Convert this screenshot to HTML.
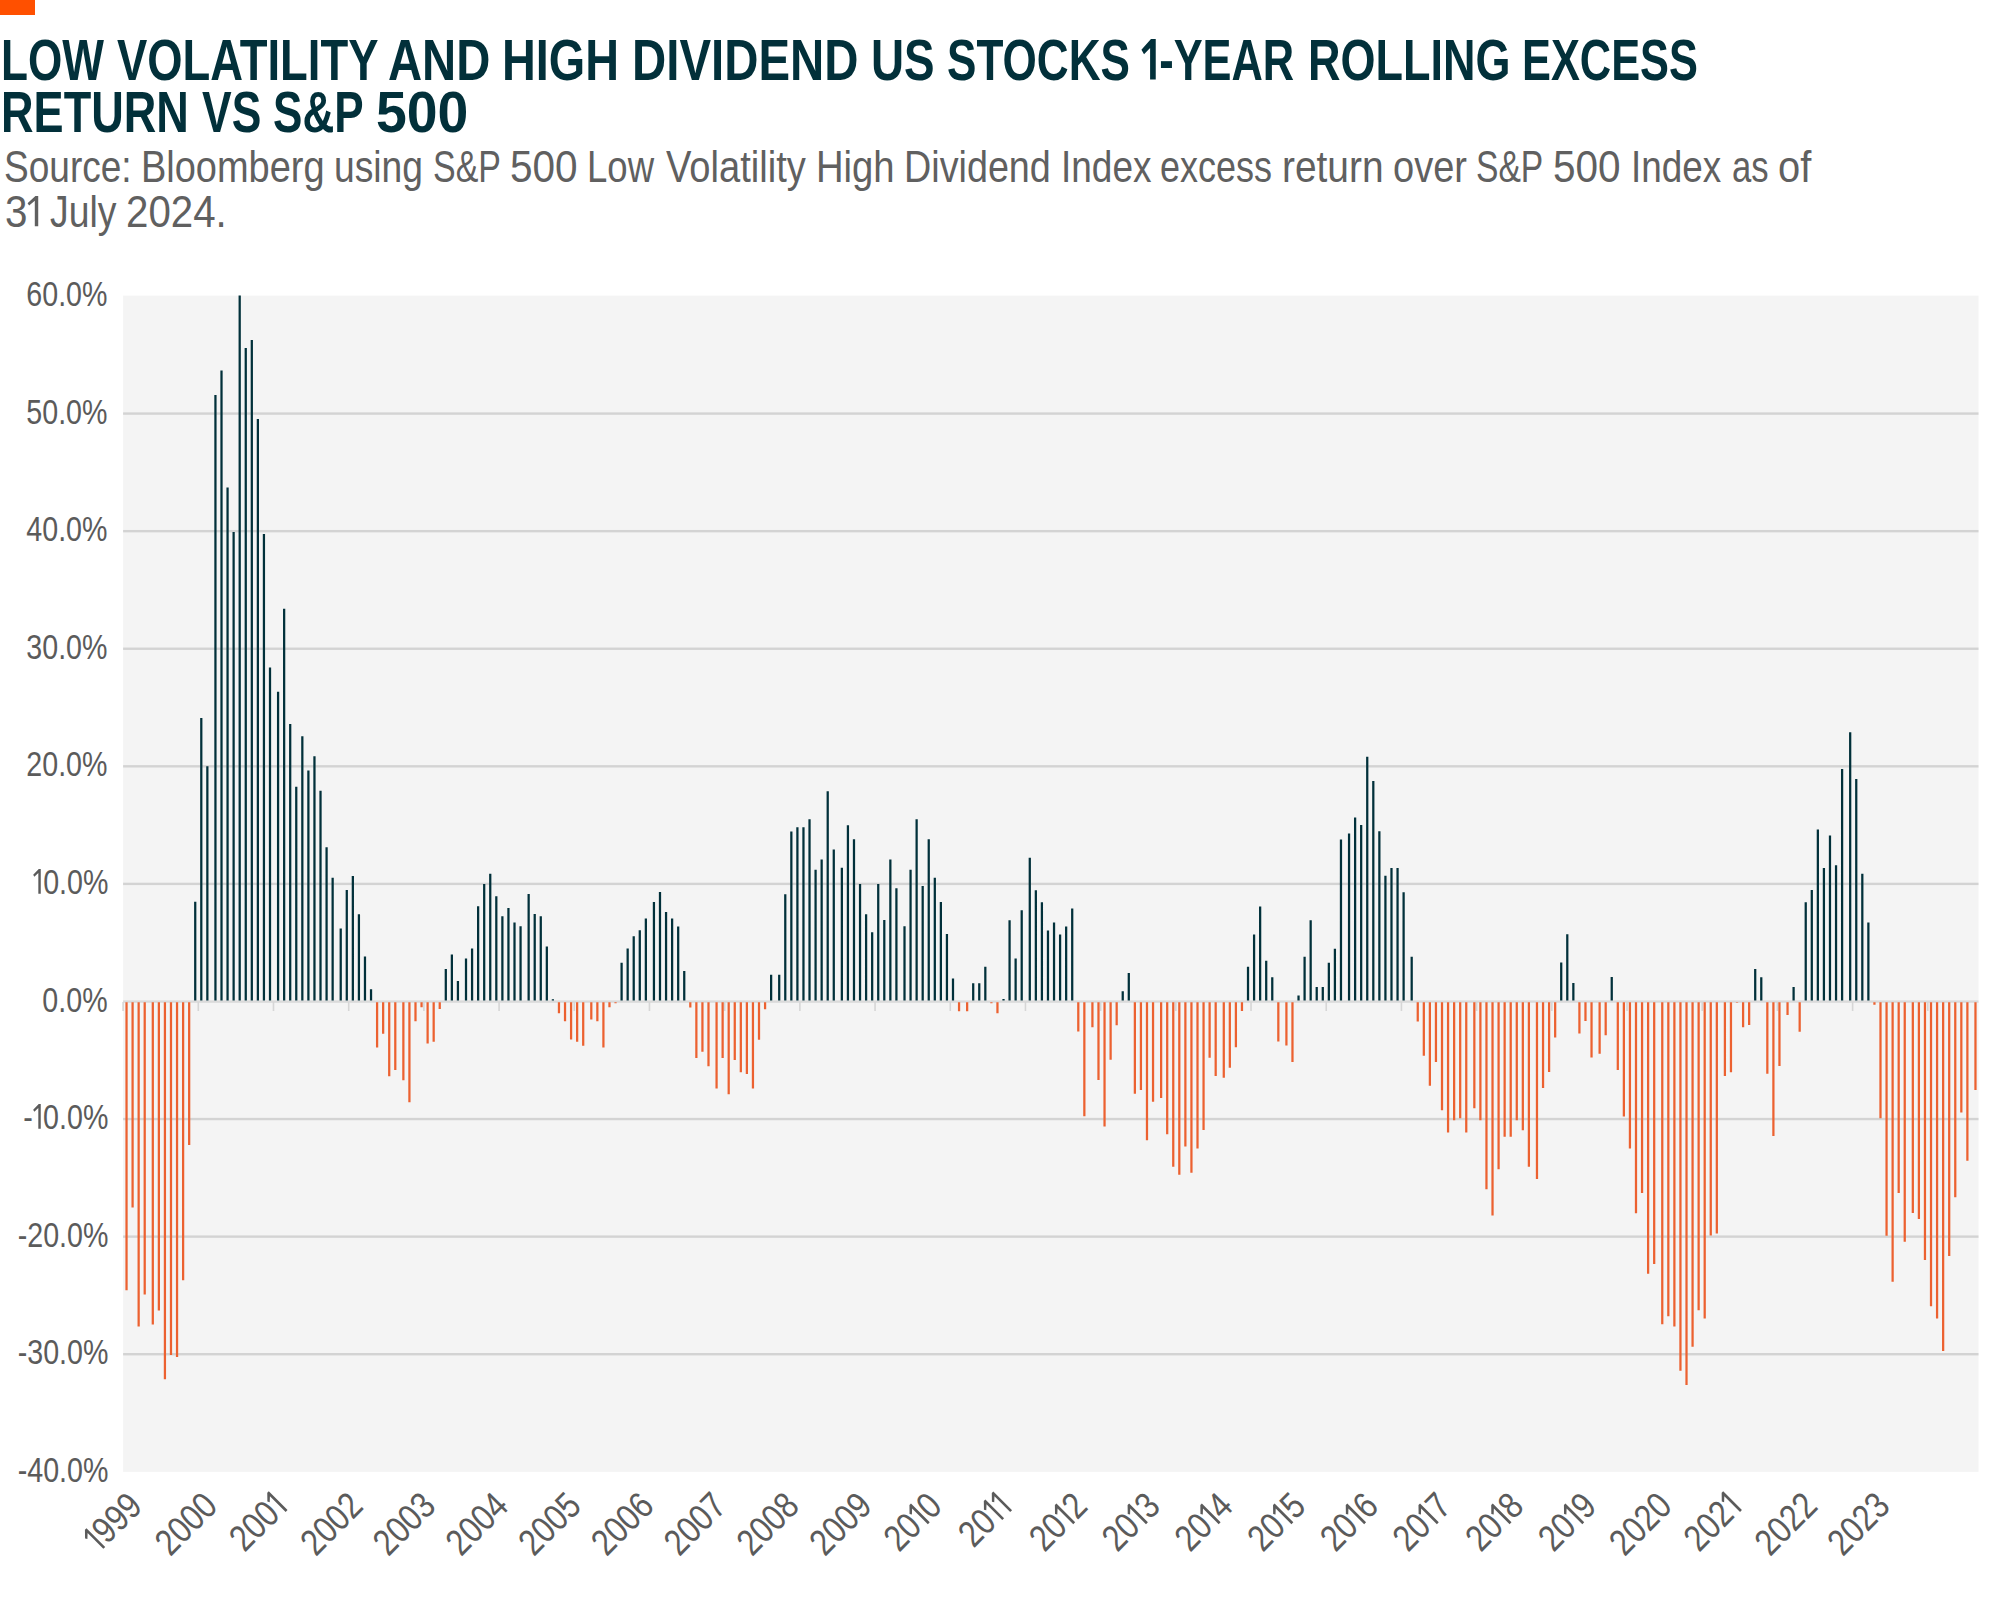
<!DOCTYPE html>
<html><head><meta charset="utf-8">
<style>
html,body{margin:0;padding:0;background:#fff;}
body{width:2000px;height:1606px;position:relative;overflow:hidden;font-family:"Liberation Sans",sans-serif;}
.bar{position:absolute;left:0;top:0;width:35px;height:15px;background:#ff5000;}
.t,.s{position:absolute;white-space:nowrap;transform-origin:0 0;}
.t{color:#02303a;font-weight:bold;}
.s{color:#606060;}
.one,.oneb{display:inline-block;width:0.36em;height:0.69em;font-weight:normal;}
.oneb{width:0.42em;height:0.7em;}
.one svg,.oneb svg{position:static;display:block;width:100%;height:100%;}
svg{position:absolute;left:0;top:0;}
.yl{position:absolute;right:1892px;white-space:nowrap;color:#5b5b5b;font-size:35.8px;line-height:40px;height:40px;margin-top:-20px;transform-origin:100% 50%;transform:scaleX(0.8);}
</style></head><body>
<div class="bar"></div>
<div class="t" id="t1w0" style="left:0.63px;top:31.56px;font-size:57.70px;line-height:57.70px;transform:scaleX(0.7661)">LOW</div>
<div class="t" id="t1w1" style="left:117.01px;top:31.56px;font-size:57.70px;line-height:57.70px;transform:scaleX(0.7870)">VOLATILITY</div>
<div class="t" id="t1w2" style="left:387.97px;top:31.56px;font-size:57.70px;line-height:57.70px;transform:scaleX(0.8190)">AND</div>
<div class="t" id="t1w3" style="left:501.97px;top:31.56px;font-size:57.70px;line-height:57.70px;transform:scaleX(0.8118)">HIGH</div>
<div class="t" id="t1w4" style="left:631.92px;top:31.56px;font-size:57.70px;line-height:57.70px;transform:scaleX(0.8215)">DIVIDEND</div>
<div class="t" id="t1w5" style="left:871.02px;top:31.56px;font-size:57.70px;line-height:57.70px;transform:scaleX(0.7935)">US</div>
<div class="t" id="t1w6" style="left:947.05px;top:31.56px;font-size:57.70px;line-height:57.70px;transform:scaleX(0.7645)">STOCKS</div>
<div class="t" id="t1w7" style="left:1140.93px;top:31.56px;font-size:57.70px;line-height:57.70px;transform:scaleX(0.7516)"><b class="oneb"><svg viewBox="0 0 42 71.6" preserveAspectRatio="none"><path fill="currentColor" d="M34 0V71.6H21V16L7 27L1 19L23 0Z"/></svg></b>-YEAR</div>
<div class="t" id="t1w8" style="left:1308.08px;top:31.56px;font-size:57.70px;line-height:57.70px;transform:scaleX(0.7798)">ROLLING</div>
<div class="t" id="t1w9" style="left:1522.17px;top:31.56px;font-size:57.70px;line-height:57.70px;transform:scaleX(0.7515)">EXCESS</div>
<div class="t" id="t2w0" style="left:1.07px;top:83.56px;font-size:57.70px;line-height:57.70px;transform:scaleX(0.7815)">RETURN</div>
<div class="t" id="t2w1" style="left:202.00px;top:83.56px;font-size:57.70px;line-height:57.70px;transform:scaleX(0.7708)">VS</div>
<div class="t" id="t2w2" style="left:273.07px;top:83.56px;font-size:57.70px;line-height:57.70px;transform:scaleX(0.7636)">S&amp;P</div>
<div class="t" id="t2w3" style="left:375.79px;top:83.56px;font-size:57.70px;line-height:57.70px;transform:scaleX(0.9601)">500</div>
<div class="s" id="s1w0" style="left:3.90px;top:144.72px;font-size:43.80px;line-height:43.80px;transform:scaleX(0.8456)">Source:</div>
<div class="s" id="s1w1" style="left:140.72px;top:144.72px;font-size:43.80px;line-height:43.80px;transform:scaleX(0.8669)">Bloomberg</div>
<div class="s" id="s1w2" style="left:333.89px;top:144.72px;font-size:43.80px;line-height:43.80px;transform:scaleX(0.8500)">using</div>
<div class="s" id="s1w3" style="left:433.07px;top:144.72px;font-size:43.80px;line-height:43.80px;transform:scaleX(0.7748)">S&amp;P</div>
<div class="s" id="s1w4" style="left:509.71px;top:144.72px;font-size:43.80px;line-height:43.80px;transform:scaleX(0.9254)">500</div>
<div class="s" id="s1w5" style="left:586.89px;top:144.72px;font-size:43.80px;line-height:43.80px;transform:scaleX(0.8344)">Low</div>
<div class="s" id="s1w6" style="left:666.02px;top:144.72px;font-size:43.80px;line-height:43.80px;transform:scaleX(0.8700)">Volatility</div>
<div class="s" id="s1w7" style="left:815.74px;top:144.72px;font-size:43.80px;line-height:43.80px;transform:scaleX(0.8729)">High</div>
<div class="s" id="s1w8" style="left:903.80px;top:144.72px;font-size:43.80px;line-height:43.80px;transform:scaleX(0.8617)">Dividend</div>
<div class="s" id="s1w9" style="left:1060.81px;top:144.72px;font-size:43.80px;line-height:43.80px;transform:scaleX(0.8450)">Index</div>
<div class="s" id="s1w10" style="left:1159.98px;top:144.72px;font-size:43.80px;line-height:43.80px;transform:scaleX(0.8210)">excess</div>
<div class="s" id="s1w11" style="left:1281.72px;top:144.72px;font-size:43.80px;line-height:43.80px;transform:scaleX(0.8875)">return</div>
<div class="s" id="s1w12" style="left:1392.87px;top:144.72px;font-size:43.80px;line-height:43.80px;transform:scaleX(0.8685)">over</div>
<div class="s" id="s1w13" style="left:1476.08px;top:144.72px;font-size:43.80px;line-height:43.80px;transform:scaleX(0.7674)">S&amp;P</div>
<div class="s" id="s1w14" style="left:1552.63px;top:144.72px;font-size:43.80px;line-height:43.80px;transform:scaleX(0.9254)">500</div>
<div class="s" id="s1w15" style="left:1630.84px;top:144.72px;font-size:43.80px;line-height:43.80px;transform:scaleX(0.8420)">Index</div>
<div class="s" id="s1w16" style="left:1732.01px;top:144.72px;font-size:43.80px;line-height:43.80px;transform:scaleX(0.7915)">as</div>
<div class="s" id="s1w17" style="left:1777.84px;top:144.72px;font-size:43.80px;line-height:43.80px;transform:scaleX(0.9101)">of</div>
<div class="s" id="s2w0" style="left:4.71px;top:189.62px;font-size:43.80px;line-height:43.80px;transform:scaleX(0.9220)">3<b class="one"><svg viewBox="0 0 36 71.6" preserveAspectRatio="none"><path fill="currentColor" d="M27.5 0V71.6H19V11.5L5 22.5L1 17L20.5 0Z"/></svg></b></div>
<div class="s" id="s2w1" style="left:49.94px;top:189.62px;font-size:43.80px;line-height:43.80px;transform:scaleX(0.8525)">July</div>
<div class="s" id="s2w2" style="left:125.65px;top:189.62px;font-size:43.80px;line-height:43.80px;transform:scaleX(0.9187)">2024.</div>
<svg width="2000" height="1606" viewBox="0 0 2000 1606">
<rect x="123.1" y="295.6" width="1855.4" height="1176.3" fill="#f4f4f4"/>
<rect x="123.1" y="412.38" width="1855.4" height="2.4" fill="#d3d3d3"/>
<rect x="123.1" y="529.96" width="1855.4" height="2.4" fill="#d3d3d3"/>
<rect x="123.1" y="647.54" width="1855.4" height="2.4" fill="#d3d3d3"/>
<rect x="123.1" y="765.12" width="1855.4" height="2.4" fill="#d3d3d3"/>
<rect x="123.1" y="882.70" width="1855.4" height="2.4" fill="#d3d3d3"/>
<rect x="123.1" y="1117.86" width="1855.4" height="2.4" fill="#d3d3d3"/>
<rect x="123.1" y="1235.44" width="1855.4" height="2.4" fill="#d3d3d3"/>
<rect x="123.1" y="1353.02" width="1855.4" height="2.4" fill="#d3d3d3"/>
<rect x="123.1" y="1000.40" width="1855.4" height="2.4" fill="#dadada"/>
<path fill="#d6d6d6" d="M122.30 1002h1.6v9h-1.6zM197.50 1002h1.6v9h-1.6zM272.69 1002h1.6v9h-1.6zM347.89 1002h1.6v9h-1.6zM423.08 1002h1.6v9h-1.6zM498.28 1002h1.6v9h-1.6zM573.48 1002h1.6v9h-1.6zM648.67 1002h1.6v9h-1.6zM723.87 1002h1.6v9h-1.6zM799.06 1002h1.6v9h-1.6zM874.26 1002h1.6v9h-1.6zM949.46 1002h1.6v9h-1.6zM1024.65 1002h1.6v9h-1.6zM1099.85 1002h1.6v9h-1.6zM1175.04 1002h1.6v9h-1.6zM1250.24 1002h1.6v9h-1.6zM1325.44 1002h1.6v9h-1.6zM1400.63 1002h1.6v9h-1.6zM1475.83 1002h1.6v9h-1.6zM1551.02 1002h1.6v9h-1.6zM1626.22 1002h1.6v9h-1.6zM1701.42 1002h1.6v9h-1.6zM1776.61 1002h1.6v9h-1.6zM1851.81 1002h1.6v9h-1.6zM1927.00 1002h1.6v9h-1.6z"/>
<path fill="#01303a" d="M194.11 901.80h2.25V1000.40h-2.25zM200.17 718.10h2.25V1000.40h-2.25zM206.23 766.30h2.25V1000.40h-2.25zM214.32 395.10h2.25V1000.40h-2.25zM220.38 370.40h2.25V1000.40h-2.25zM226.44 487.50h2.25V1000.40h-2.25zM232.50 532.10h2.25V1000.40h-2.25zM238.57 295.40h2.25V1000.40h-2.25zM244.63 348.00h2.25V1000.40h-2.25zM250.69 340.00h2.25V1000.40h-2.25zM256.75 419.00h2.25V1000.40h-2.25zM262.81 534.10h2.25V1000.40h-2.25zM268.88 667.50h2.25V1000.40h-2.25zM276.96 691.80h2.25V1000.40h-2.25zM283.02 608.70h2.25V1000.40h-2.25zM289.08 724.10h2.25V1000.40h-2.25zM295.14 786.70h2.25V1000.40h-2.25zM301.21 736.30h2.25V1000.40h-2.25zM307.27 770.60h2.25V1000.40h-2.25zM313.33 756.30h2.25V1000.40h-2.25zM319.39 790.80h2.25V1000.40h-2.25zM325.46 847.20h2.25V1000.40h-2.25zM331.52 877.70h2.25V1000.40h-2.25zM339.60 928.40h2.25V1000.40h-2.25zM345.66 890.00h2.25V1000.40h-2.25zM351.72 876.00h2.25V1000.40h-2.25zM357.79 914.20h2.25V1000.40h-2.25zM363.85 956.60h2.25V1000.40h-2.25zM369.91 989.30h2.25V1000.40h-2.25zM444.68 968.90h2.25V1000.40h-2.25zM450.74 954.60h2.25V1000.40h-2.25zM456.80 981.00h2.25V1000.40h-2.25zM464.88 958.50h2.25V1000.40h-2.25zM470.95 948.60h2.25V1000.40h-2.25zM477.01 906.20h2.25V1000.40h-2.25zM483.07 884.00h2.25V1000.40h-2.25zM489.13 873.80h2.25V1000.40h-2.25zM495.19 896.30h2.25V1000.40h-2.25zM501.26 916.30h2.25V1000.40h-2.25zM507.32 908.10h2.25V1000.40h-2.25zM513.38 922.40h2.25V1000.40h-2.25zM519.44 926.30h2.25V1000.40h-2.25zM527.53 894.10h2.25V1000.40h-2.25zM533.59 914.10h2.25V1000.40h-2.25zM539.65 916.30h2.25V1000.40h-2.25zM545.71 946.60h2.25V1000.40h-2.25zM551.77 999.20h2.25V1000.40h-2.25zM620.48 962.70h2.25V1000.40h-2.25zM626.54 948.40h2.25V1000.40h-2.25zM632.60 936.30h2.25V1000.40h-2.25zM638.66 930.30h2.25V1000.40h-2.25zM644.73 918.40h2.25V1000.40h-2.25zM652.81 902.10h2.25V1000.40h-2.25zM658.87 892.00h2.25V1000.40h-2.25zM664.93 912.10h2.25V1000.40h-2.25zM670.99 918.40h2.25V1000.40h-2.25zM677.06 926.40h2.25V1000.40h-2.25zM683.12 971.00h2.25V1000.40h-2.25zM770.01 974.80h2.25V1000.40h-2.25zM778.09 974.80h2.25V1000.40h-2.25zM784.15 894.20h2.25V1000.40h-2.25zM790.22 831.40h2.25V1000.40h-2.25zM796.28 827.30h2.25V1000.40h-2.25zM802.34 827.30h2.25V1000.40h-2.25zM808.40 819.30h2.25V1000.40h-2.25zM814.46 869.70h2.25V1000.40h-2.25zM820.53 859.50h2.25V1000.40h-2.25zM826.59 791.20h2.25V1000.40h-2.25zM832.65 849.60h2.25V1000.40h-2.25zM840.73 867.70h2.25V1000.40h-2.25zM846.80 825.20h2.25V1000.40h-2.25zM852.86 839.30h2.25V1000.40h-2.25zM858.92 884.10h2.25V1000.40h-2.25zM864.98 914.20h2.25V1000.40h-2.25zM871.04 932.30h2.25V1000.40h-2.25zM877.11 884.10h2.25V1000.40h-2.25zM883.17 920.10h2.25V1000.40h-2.25zM889.23 859.50h2.25V1000.40h-2.25zM895.29 888.20h2.25V1000.40h-2.25zM903.38 926.30h2.25V1000.40h-2.25zM909.44 869.70h2.25V1000.40h-2.25zM915.50 819.30h2.25V1000.40h-2.25zM921.56 885.90h2.25V1000.40h-2.25zM927.62 839.30h2.25V1000.40h-2.25zM933.69 877.70h2.25V1000.40h-2.25zM939.75 901.90h2.25V1000.40h-2.25zM945.81 934.10h2.25V1000.40h-2.25zM951.87 978.60h2.25V1000.40h-2.25zM972.08 983.20h2.25V1000.40h-2.25zM978.14 983.20h2.25V1000.40h-2.25zM984.20 966.70h2.25V1000.40h-2.25zM1002.39 999.10h2.25V1000.40h-2.25zM1008.45 920.30h2.25V1000.40h-2.25zM1014.51 958.50h2.25V1000.40h-2.25zM1020.58 910.20h2.25V1000.40h-2.25zM1028.66 857.80h2.25V1000.40h-2.25zM1034.72 890.20h2.25V1000.40h-2.25zM1040.78 902.20h2.25V1000.40h-2.25zM1046.85 930.60h2.25V1000.40h-2.25zM1052.91 922.60h2.25V1000.40h-2.25zM1058.97 934.40h2.25V1000.40h-2.25zM1065.03 926.50h2.25V1000.40h-2.25zM1071.09 908.40h2.25V1000.40h-2.25zM1121.61 991.20h2.25V1000.40h-2.25zM1127.67 972.90h2.25V1000.40h-2.25zM1246.89 966.80h2.25V1000.40h-2.25zM1252.96 934.40h2.25V1000.40h-2.25zM1259.02 906.40h2.25V1000.40h-2.25zM1265.08 960.80h2.25V1000.40h-2.25zM1271.14 977.30h2.25V1000.40h-2.25zM1297.41 995.40h2.25V1000.40h-2.25zM1303.47 956.80h2.25V1000.40h-2.25zM1309.54 920.30h2.25V1000.40h-2.25zM1315.60 987.00h2.25V1000.40h-2.25zM1321.66 987.00h2.25V1000.40h-2.25zM1327.72 962.70h2.25V1000.40h-2.25zM1333.78 948.70h2.25V1000.40h-2.25zM1339.85 839.40h2.25V1000.40h-2.25zM1347.93 833.60h2.25V1000.40h-2.25zM1353.99 817.40h2.25V1000.40h-2.25zM1360.05 825.10h2.25V1000.40h-2.25zM1366.12 756.70h2.25V1000.40h-2.25zM1372.18 780.90h2.25V1000.40h-2.25zM1378.24 831.30h2.25V1000.40h-2.25zM1384.30 875.80h2.25V1000.40h-2.25zM1390.36 868.00h2.25V1000.40h-2.25zM1396.43 868.00h2.25V1000.40h-2.25zM1402.49 892.30h2.25V1000.40h-2.25zM1410.57 956.80h2.25V1000.40h-2.25zM1560.10 962.60h2.25V1000.40h-2.25zM1566.16 934.30h2.25V1000.40h-2.25zM1572.23 983.10h2.25V1000.40h-2.25zM1610.62 977.00h2.25V1000.40h-2.25zM1754.09 969.10h2.25V1000.40h-2.25zM1760.15 977.30h2.25V1000.40h-2.25zM1792.48 987.00h2.25V1000.40h-2.25zM1804.61 902.30h2.25V1000.40h-2.25zM1810.67 890.10h2.25V1000.40h-2.25zM1816.73 829.60h2.25V1000.40h-2.25zM1822.79 868.00h2.25V1000.40h-2.25zM1828.86 835.40h2.25V1000.40h-2.25zM1834.92 865.30h2.25V1000.40h-2.25zM1840.98 768.90h2.25V1000.40h-2.25zM1849.06 732.30h2.25V1000.40h-2.25zM1855.13 779.00h2.25V1000.40h-2.25zM1861.19 873.70h2.25V1000.40h-2.25zM1867.25 922.50h2.25V1000.40h-2.25z"/>
<path fill="#ec6130" d="M125.41 1002.30h2.25V1290.20h-2.25zM131.47 1002.30h2.25V1207.50h-2.25zM137.53 1002.30h2.25V1326.60h-2.25zM143.59 1002.30h2.25V1294.50h-2.25zM151.68 1002.30h2.25V1324.40h-2.25zM157.74 1002.30h2.25V1310.40h-2.25zM163.80 1002.30h2.25V1379.30h-2.25zM169.86 1002.30h2.25V1355.00h-2.25zM175.92 1002.30h2.25V1357.10h-2.25zM181.99 1002.30h2.25V1280.30h-2.25zM188.05 1002.30h2.25V1144.90h-2.25zM375.97 1002.30h2.25V1047.60h-2.25zM382.03 1002.30h2.25V1033.70h-2.25zM388.10 1002.30h2.25V1076.30h-2.25zM394.16 1002.30h2.25V1069.90h-2.25zM402.24 1002.30h2.25V1080.20h-2.25zM408.30 1002.30h2.25V1102.30h-2.25zM414.37 1002.30h2.25V1021.30h-2.25zM420.43 1002.30h2.25V1007.30h-2.25zM426.49 1002.30h2.25V1043.50h-2.25zM432.55 1002.30h2.25V1041.80h-2.25zM438.61 1002.30h2.25V1009.10h-2.25zM557.84 1002.30h2.25V1013.20h-2.25zM563.90 1002.30h2.25V1021.30h-2.25zM569.96 1002.30h2.25V1039.50h-2.25zM576.02 1002.30h2.25V1041.80h-2.25zM582.08 1002.30h2.25V1045.80h-2.25zM590.17 1002.30h2.25V1019.50h-2.25zM596.23 1002.30h2.25V1021.30h-2.25zM602.29 1002.30h2.25V1047.60h-2.25zM608.35 1002.30h2.25V1007.30h-2.25zM614.42 1002.30h2.25V1003.30h-2.25zM689.18 1002.30h2.25V1007.40h-2.25zM695.24 1002.30h2.25V1058.00h-2.25zM701.31 1002.30h2.25V1051.80h-2.25zM707.37 1002.30h2.25V1066.20h-2.25zM715.45 1002.30h2.25V1088.40h-2.25zM721.51 1002.30h2.25V1058.00h-2.25zM727.57 1002.30h2.25V1094.30h-2.25zM733.64 1002.30h2.25V1060.00h-2.25zM739.70 1002.30h2.25V1072.20h-2.25zM745.76 1002.30h2.25V1074.00h-2.25zM751.82 1002.30h2.25V1088.40h-2.25zM757.88 1002.30h2.25V1039.70h-2.25zM763.95 1002.30h2.25V1009.30h-2.25zM957.93 1002.30h2.25V1011.35h-2.25zM966.02 1002.30h2.25V1011.35h-2.25zM990.27 1002.30h2.25V1003.30h-2.25zM996.33 1002.30h2.25V1013.20h-2.25zM1077.16 1002.30h2.25V1031.60h-2.25zM1083.22 1002.30h2.25V1116.20h-2.25zM1091.30 1002.30h2.25V1027.30h-2.25zM1097.36 1002.30h2.25V1080.00h-2.25zM1103.42 1002.30h2.25V1126.60h-2.25zM1109.49 1002.30h2.25V1059.70h-2.25zM1115.55 1002.30h2.25V1025.30h-2.25zM1133.74 1002.30h2.25V1093.80h-2.25zM1139.80 1002.30h2.25V1089.90h-2.25zM1145.86 1002.30h2.25V1140.20h-2.25zM1151.92 1002.30h2.25V1101.80h-2.25zM1160.00 1002.30h2.25V1097.90h-2.25zM1166.07 1002.30h2.25V1134.30h-2.25zM1172.13 1002.30h2.25V1166.80h-2.25zM1178.19 1002.30h2.25V1174.80h-2.25zM1184.25 1002.30h2.25V1146.40h-2.25zM1190.31 1002.30h2.25V1172.70h-2.25zM1196.38 1002.30h2.25V1148.60h-2.25zM1202.44 1002.30h2.25V1130.10h-2.25zM1208.50 1002.30h2.25V1057.70h-2.25zM1214.56 1002.30h2.25V1076.00h-2.25zM1222.65 1002.30h2.25V1077.80h-2.25zM1228.71 1002.30h2.25V1067.80h-2.25zM1234.77 1002.30h2.25V1047.30h-2.25zM1240.83 1002.30h2.25V1011.00h-2.25zM1277.20 1002.30h2.25V1041.50h-2.25zM1285.29 1002.30h2.25V1045.50h-2.25zM1291.35 1002.30h2.25V1062.10h-2.25zM1416.63 1002.30h2.25V1021.40h-2.25zM1422.70 1002.30h2.25V1055.70h-2.25zM1428.76 1002.30h2.25V1085.80h-2.25zM1434.82 1002.30h2.25V1061.90h-2.25zM1440.88 1002.30h2.25V1110.20h-2.25zM1446.94 1002.30h2.25V1132.40h-2.25zM1453.01 1002.30h2.25V1120.20h-2.25zM1459.07 1002.30h2.25V1118.30h-2.25zM1465.13 1002.30h2.25V1132.40h-2.25zM1473.21 1002.30h2.25V1108.30h-2.25zM1479.27 1002.30h2.25V1120.20h-2.25zM1485.34 1002.30h2.25V1189.20h-2.25zM1491.40 1002.30h2.25V1215.40h-2.25zM1497.46 1002.30h2.25V1169.20h-2.25zM1503.52 1002.30h2.25V1136.70h-2.25zM1509.59 1002.30h2.25V1136.70h-2.25zM1515.65 1002.30h2.25V1120.20h-2.25zM1521.71 1002.30h2.25V1130.20h-2.25zM1527.77 1002.30h2.25V1166.70h-2.25zM1535.85 1002.30h2.25V1178.90h-2.25zM1541.92 1002.30h2.25V1088.00h-2.25zM1547.98 1002.30h2.25V1071.90h-2.25zM1554.04 1002.30h2.25V1037.60h-2.25zM1578.29 1002.30h2.25V1033.50h-2.25zM1584.35 1002.30h2.25V1021.10h-2.25zM1590.41 1002.30h2.25V1057.60h-2.25zM1598.50 1002.30h2.25V1053.70h-2.25zM1604.56 1002.30h2.25V1035.30h-2.25zM1616.68 1002.30h2.25V1069.90h-2.25zM1622.74 1002.30h2.25V1116.40h-2.25zM1628.81 1002.30h2.25V1148.50h-2.25zM1634.87 1002.30h2.25V1213.20h-2.25zM1640.93 1002.30h2.25V1193.10h-2.25zM1646.99 1002.30h2.25V1273.80h-2.25zM1653.06 1002.30h2.25V1264.00h-2.25zM1661.14 1002.30h2.25V1324.30h-2.25zM1667.20 1002.30h2.25V1316.30h-2.25zM1673.26 1002.30h2.25V1326.50h-2.25zM1679.32 1002.30h2.25V1370.70h-2.25zM1685.39 1002.30h2.25V1384.90h-2.25zM1691.45 1002.30h2.25V1346.80h-2.25zM1697.51 1002.30h2.25V1310.20h-2.25zM1703.57 1002.30h2.25V1318.40h-2.25zM1709.63 1002.30h2.25V1235.60h-2.25zM1715.70 1002.30h2.25V1233.50h-2.25zM1723.78 1002.30h2.25V1075.90h-2.25zM1729.84 1002.30h2.25V1072.20h-2.25zM1735.90 1002.30h2.25V1002.80h-2.25zM1741.97 1002.30h2.25V1027.20h-2.25zM1748.03 1002.30h2.25V1024.90h-2.25zM1766.21 1002.30h2.25V1073.70h-2.25zM1772.28 1002.30h2.25V1136.00h-2.25zM1778.34 1002.30h2.25V1066.00h-2.25zM1786.42 1002.30h2.25V1015.00h-2.25zM1798.55 1002.30h2.25V1031.70h-2.25zM1873.31 1002.30h2.25V1004.80h-2.25zM1879.37 1002.30h2.25V1118.20h-2.25zM1885.44 1002.30h2.25V1235.70h-2.25zM1891.50 1002.30h2.25V1281.80h-2.25zM1897.56 1002.30h2.25V1193.10h-2.25zM1903.62 1002.30h2.25V1241.70h-2.25zM1911.70 1002.30h2.25V1212.90h-2.25zM1917.77 1002.30h2.25V1219.10h-2.25zM1923.83 1002.30h2.25V1259.90h-2.25zM1929.89 1002.30h2.25V1306.20h-2.25zM1935.95 1002.30h2.25V1318.60h-2.25zM1942.02 1002.30h2.25V1350.90h-2.25zM1948.08 1002.30h2.25V1256.00h-2.25zM1954.14 1002.30h2.25V1197.20h-2.25zM1960.20 1002.30h2.25V1112.40h-2.25zM1966.26 1002.30h2.25V1160.80h-2.25zM1974.35 1002.30h2.25V1090.10h-2.25z"/>
<g fill="#5b5b5b" font-family="Liberation Sans" font-size="37.0">
<g id="x0" transform="translate(112.50 1521.50) rotate(-45) scale(0.8450 1)"><path transform="translate(-37.52 -13.69) scale(0.3700)" d="M27.5 0V71.6H19V11.5L5 22.5L1 17L20.5 0Z"/><text x="-24.20" y="12.8">9</text><text x="-3.63" y="12.8">9</text><text x="16.95" y="12.8">9</text></g>
<g id="x1" transform="translate(185.72 1523.50) rotate(-45) scale(0.8450 1)"><text x="-41.14" y="12.8">2</text><text x="-20.57" y="12.8">0</text><text x="0.00" y="12.8">0</text><text x="20.57" y="12.8">0</text></g>
<g id="x2" transform="translate(257.94 1521.50) rotate(-45) scale(0.8450 1)"><text x="-37.52" y="12.8">2</text><text x="-16.95" y="12.8">0</text><text x="3.63" y="12.8">0</text><path transform="translate(24.20 -13.69) scale(0.3700)" d="M27.5 0V71.6H19V11.5L5 22.5L1 17L20.5 0Z"/></g>
<g id="x3" transform="translate(331.16 1523.50) rotate(-45) scale(0.8450 1)"><text x="-41.14" y="12.8">2</text><text x="-20.57" y="12.8">0</text><text x="0.00" y="12.8">0</text><text x="20.57" y="12.8">2</text></g>
<g id="x4" transform="translate(403.88 1523.50) rotate(-45) scale(0.8450 1)"><text x="-41.14" y="12.8">2</text><text x="-20.57" y="12.8">0</text><text x="0.00" y="12.8">0</text><text x="20.57" y="12.8">3</text></g>
<g id="x5" transform="translate(476.60 1523.50) rotate(-45) scale(0.8450 1)"><text x="-41.14" y="12.8">2</text><text x="-20.57" y="12.8">0</text><text x="0.00" y="12.8">0</text><text x="20.57" y="12.8">4</text></g>
<g id="x6" transform="translate(549.32 1523.50) rotate(-45) scale(0.8450 1)"><text x="-41.14" y="12.8">2</text><text x="-20.57" y="12.8">0</text><text x="0.00" y="12.8">0</text><text x="20.57" y="12.8">5</text></g>
<g id="x7" transform="translate(622.04 1523.50) rotate(-45) scale(0.8450 1)"><text x="-41.14" y="12.8">2</text><text x="-20.57" y="12.8">0</text><text x="0.00" y="12.8">0</text><text x="20.57" y="12.8">6</text></g>
<g id="x8" transform="translate(694.76 1523.50) rotate(-45) scale(0.8450 1)"><text x="-41.14" y="12.8">2</text><text x="-20.57" y="12.8">0</text><text x="0.00" y="12.8">0</text><text x="20.57" y="12.8">7</text></g>
<g id="x9" transform="translate(767.48 1523.50) rotate(-45) scale(0.8450 1)"><text x="-41.14" y="12.8">2</text><text x="-20.57" y="12.8">0</text><text x="0.00" y="12.8">0</text><text x="20.57" y="12.8">8</text></g>
<g id="x10" transform="translate(840.20 1523.50) rotate(-45) scale(0.8450 1)"><text x="-41.14" y="12.8">2</text><text x="-20.57" y="12.8">0</text><text x="0.00" y="12.8">0</text><text x="20.57" y="12.8">9</text></g>
<g id="x11" transform="translate(912.42 1521.50) rotate(-45) scale(0.8450 1)"><text x="-37.52" y="12.8">2</text><text x="-16.95" y="12.8">0</text><path transform="translate(3.63 -13.69) scale(0.3700)" d="M27.5 0V71.6H19V11.5L5 22.5L1 17L20.5 0Z"/><text x="16.95" y="12.8">0</text></g>
<g id="x12" transform="translate(984.64 1519.50) rotate(-45) scale(0.8450 1)"><text x="-33.89" y="12.8">2</text><text x="-13.32" y="12.8">0</text><path transform="translate(7.25 -13.69) scale(0.3700)" d="M27.5 0V71.6H19V11.5L5 22.5L1 17L20.5 0Z"/><path transform="translate(20.57 -13.69) scale(0.3700)" d="M27.5 0V71.6H19V11.5L5 22.5L1 17L20.5 0Z"/></g>
<g id="x13" transform="translate(1057.86 1521.50) rotate(-45) scale(0.8450 1)"><text x="-37.52" y="12.8">2</text><text x="-16.95" y="12.8">0</text><path transform="translate(3.63 -13.69) scale(0.3700)" d="M27.5 0V71.6H19V11.5L5 22.5L1 17L20.5 0Z"/><text x="16.95" y="12.8">2</text></g>
<g id="x14" transform="translate(1130.58 1521.50) rotate(-45) scale(0.8450 1)"><text x="-37.52" y="12.8">2</text><text x="-16.95" y="12.8">0</text><path transform="translate(3.63 -13.69) scale(0.3700)" d="M27.5 0V71.6H19V11.5L5 22.5L1 17L20.5 0Z"/><text x="16.95" y="12.8">3</text></g>
<g id="x15" transform="translate(1203.30 1521.50) rotate(-45) scale(0.8450 1)"><text x="-37.52" y="12.8">2</text><text x="-16.95" y="12.8">0</text><path transform="translate(3.63 -13.69) scale(0.3700)" d="M27.5 0V71.6H19V11.5L5 22.5L1 17L20.5 0Z"/><text x="16.95" y="12.8">4</text></g>
<g id="x16" transform="translate(1276.02 1521.50) rotate(-45) scale(0.8450 1)"><text x="-37.52" y="12.8">2</text><text x="-16.95" y="12.8">0</text><path transform="translate(3.63 -13.69) scale(0.3700)" d="M27.5 0V71.6H19V11.5L5 22.5L1 17L20.5 0Z"/><text x="16.95" y="12.8">5</text></g>
<g id="x17" transform="translate(1348.74 1521.50) rotate(-45) scale(0.8450 1)"><text x="-37.52" y="12.8">2</text><text x="-16.95" y="12.8">0</text><path transform="translate(3.63 -13.69) scale(0.3700)" d="M27.5 0V71.6H19V11.5L5 22.5L1 17L20.5 0Z"/><text x="16.95" y="12.8">6</text></g>
<g id="x18" transform="translate(1421.46 1521.50) rotate(-45) scale(0.8450 1)"><text x="-37.52" y="12.8">2</text><text x="-16.95" y="12.8">0</text><path transform="translate(3.63 -13.69) scale(0.3700)" d="M27.5 0V71.6H19V11.5L5 22.5L1 17L20.5 0Z"/><text x="16.95" y="12.8">7</text></g>
<g id="x19" transform="translate(1494.18 1521.50) rotate(-45) scale(0.8450 1)"><text x="-37.52" y="12.8">2</text><text x="-16.95" y="12.8">0</text><path transform="translate(3.63 -13.69) scale(0.3700)" d="M27.5 0V71.6H19V11.5L5 22.5L1 17L20.5 0Z"/><text x="16.95" y="12.8">8</text></g>
<g id="x20" transform="translate(1566.90 1521.50) rotate(-45) scale(0.8450 1)"><text x="-37.52" y="12.8">2</text><text x="-16.95" y="12.8">0</text><path transform="translate(3.63 -13.69) scale(0.3700)" d="M27.5 0V71.6H19V11.5L5 22.5L1 17L20.5 0Z"/><text x="16.95" y="12.8">9</text></g>
<g id="x21" transform="translate(1640.12 1523.50) rotate(-45) scale(0.8450 1)"><text x="-41.14" y="12.8">2</text><text x="-20.57" y="12.8">0</text><text x="0.00" y="12.8">2</text><text x="20.57" y="12.8">0</text></g>
<g id="x22" transform="translate(1712.34 1521.50) rotate(-45) scale(0.8450 1)"><text x="-37.52" y="12.8">2</text><text x="-16.95" y="12.8">0</text><text x="3.63" y="12.8">2</text><path transform="translate(24.20 -13.69) scale(0.3700)" d="M27.5 0V71.6H19V11.5L5 22.5L1 17L20.5 0Z"/></g>
<g id="x23" transform="translate(1785.56 1523.50) rotate(-45) scale(0.8450 1)"><text x="-41.14" y="12.8">2</text><text x="-20.57" y="12.8">0</text><text x="0.00" y="12.8">2</text><text x="20.57" y="12.8">2</text></g>
<g id="x24" transform="translate(1858.28 1523.50) rotate(-45) scale(0.8450 1)"><text x="-41.14" y="12.8">2</text><text x="-20.57" y="12.8">0</text><text x="0.00" y="12.8">2</text><text x="20.57" y="12.8">3</text></g>
</g>
</svg>
<div class="yl" id="y0" style="top:294.10px">60.0%</div>
<div class="yl" id="y1" style="top:411.68px">50.0%</div>
<div class="yl" id="y2" style="top:529.26px">40.0%</div>
<div class="yl" id="y3" style="top:646.84px">30.0%</div>
<div class="yl" id="y4" style="top:764.42px">20.0%</div>
<div class="yl" id="y5" style="top:882.00px"><b class="one"><svg viewBox="0 0 36 71.6" preserveAspectRatio="none"><path fill="currentColor" d="M27.5 0V71.6H19V11.5L5 22.5L1 17L20.5 0Z"/></svg></b>0.0%</div>
<div class="yl" id="y6" style="top:999.58px">0.0%</div>
<div class="yl" id="y7" style="top:1117.16px">-<b class="one"><svg viewBox="0 0 36 71.6" preserveAspectRatio="none"><path fill="currentColor" d="M27.5 0V71.6H19V11.5L5 22.5L1 17L20.5 0Z"/></svg></b>0.0%</div>
<div class="yl" id="y8" style="top:1234.74px">-20.0%</div>
<div class="yl" id="y9" style="top:1352.32px">-30.0%</div>
<div class="yl" id="y10" style="top:1469.90px">-40.0%</div>
</body></html>
